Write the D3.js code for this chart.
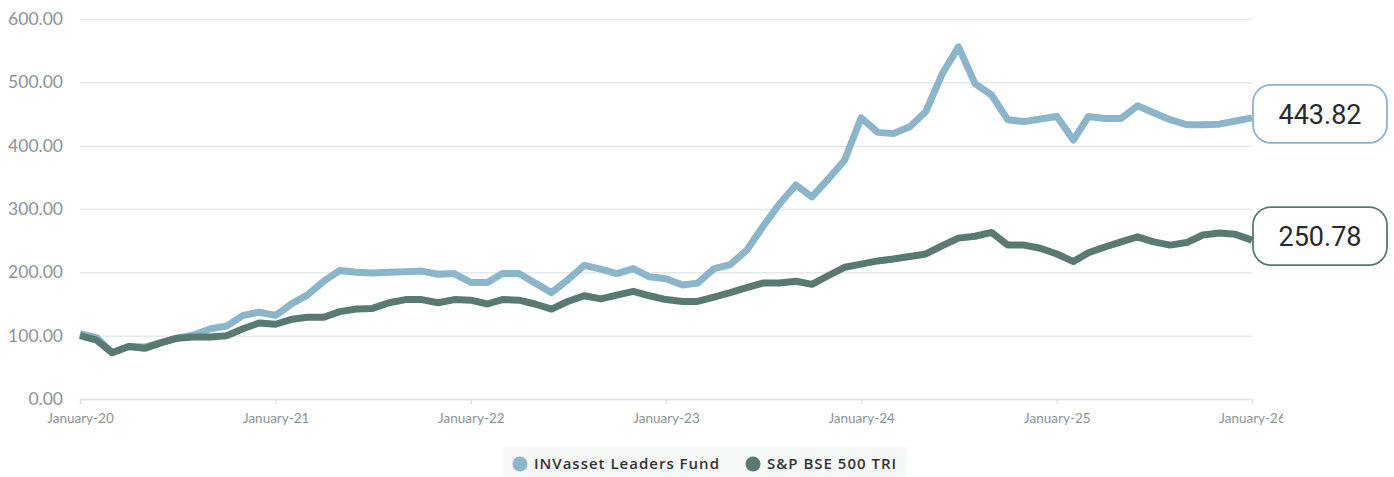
<!DOCTYPE html>
<html>
<head>
<meta charset="utf-8">
<script src="https://cdn.jsdelivr.net/npm/d3@7"></script>
<style>
  body { margin: 0; background: #fff; }
  svg { display: block; }
</style>
</head>
<body>
<div id="chart"></div>
<script>
// DATA
var startMonth = new Date(2020, 0, 1)
var endMonth = new Date(2026, 0, 1)
var months = d3.timeMonth.range(startMonth, d3.timeMonth.offset(endMonth, 1))

var fundValues = [103, 97, 73, 83, 82, 89, 96, 101, 111, 115, 132, 137,
  132, 151, 164, 186, 203, 200, 199, 200, 201, 202, 197, 198,
  184, 184, 198, 198, 183, 168, 188, 211, 205, 198, 206, 193,
  190, 180, 183, 206, 212, 235, 272, 308, 338, 319, 348, 377,
  444, 421, 419, 430, 454, 514, 556, 498, 480, 441, 438, 442,
  446, 409, 446, 443, 443, 463, 452, 441, 433, 433, 434, 439,
  443.82]

var indexValues = [100, 93, 73, 83, 80, 89, 96, 98, 98, 100, 111, 120,
  118, 126, 129, 129, 138, 142, 143, 152, 157, 157, 152, 157,
  156, 150, 157, 156, 150, 142, 154, 163, 158, 164, 170, 163,
  157, 154, 154, 161, 168, 176, 183, 183, 186, 181, 195, 208,
  213, 218, 221, 225, 229, 242, 254, 257, 263, 243, 243, 238,
  229, 217, 231, 240, 248, 256, 248, 243, 247, 259, 262, 260,
  250.78]

var yTicks = [0, 100, 200, 300, 400, 500, 600]
var xTicks = d3.timeYear.range(startMonth, d3.timeYear.offset(endMonth, 1))

var series = [
  {name: "INVasset Leaders Fund", color: "#8bb5cb", values: fundValues},
  {name: "S&P BSE 500 TRI", color: "#587a72", values: indexValues}
]

var W = 1394, H = 477
var margin = {top: 19, right: 142, bottom: 78, left: 80}

var svg = d3.select("#chart").append("svg")
  .attr("width", W)
  .attr("height", H)

var x = d3.scaleTime()
  .domain([startMonth, endMonth])
  .range([margin.left, W - margin.right])

var y = d3.scaleLinear()
  .domain([0, 600])
  .range([H - margin.bottom, margin.top])

// GRID + Y LABELS
var yAxis = svg.append("g")
  .attr("transform", "translate(" + margin.left + ",0)")
  .call(d3.axisLeft(y).tickValues(yTicks).tickSize(-(W - margin.right - margin.left)).tickPadding(17).tickFormat(d3.format(".2f")))

yAxis.select(".domain").remove()
yAxis.selectAll(".tick line")
  .attr("stroke", "#e4eaeb")
  .attr("stroke-width", 1.5)
yAxis.selectAll(".tick text")
  .style("font-family", "Lato, sans-serif")
  .style("font-size", "17.5px")
  .style("fill", "#8d9396")

// X AXIS
svg.append("clipPath").attr("id", "xclip")
  .append("rect").attr("x", 0).attr("y", 0).attr("width", 1283).attr("height", H)

var xAxis = svg.append("g")
  .attr("transform", "translate(0," + y(0) + ")")
  .attr("clip-path", "url(#xclip)")
  .call(d3.axisBottom(x).tickValues(xTicks).tickSize(5).tickPadding(9).tickFormat(d3.timeFormat("January-%y")))

xAxis.select(".domain")
  .attr("stroke", "#dde5e8")
  .attr("stroke-width", 1.5)
xAxis.selectAll(".tick line")
  .attr("stroke", "#dde5e8")
  .attr("stroke-width", 1.5)
xAxis.selectAll(".tick text")
  .style("font-family", "Lato, sans-serif")
  .style("font-size", "13.5px")
  .style("fill", "#8d9396")

// LINES (index drawn on top, as in the original)
var line = d3.line()
  .x((d, i) => x(months[i]))
  .y(d => y(d))

svg.selectAll(".series")
  .data(series)
  .enter().append("path")
    .attr("class", "series")
    .attr("d", d => line(d.values))
    .attr("fill", "none")
    .attr("stroke", d => d.color)
    .attr("stroke-width", 7)
    .attr("stroke-linejoin", "round")

// END LABELS
var endLabel = svg.selectAll(".end-label")
  .data(series)
  .enter().append("g")
    .attr("class", "end-label")
    .attr("transform", d => "translate(" + (x(endMonth) + 1) + "," + (y(d.values[d.values.length - 1]) - 4) + ")")

endLabel.append("rect")
  .attr("x", 0)
  .attr("y", -29)
  .attr("width", 134)
  .attr("height", 58)
  .attr("rx", 18)
  .attr("fill", "#fff")
  .attr("stroke", d => d.color)
  .attr("stroke-width", 1.8)

endLabel.append("text")
  .attr("x", 67)
  .attr("y", 1)
  .attr("text-anchor", "middle")
  .attr("dominant-baseline", "central")
  .style("font-family", "Roboto, sans-serif")
  .style("font-size", "27px")
  .style("fill", "#2a2a2a")
  .text(d => d3.format(".2f")(d.values[d.values.length - 1]))

// LEGEND
svg.append("rect")
  .attr("x", 503)
  .attr("y", 447)
  .attr("width", 404)
  .attr("height", 30)
  .attr("fill", "#f6f7f7")

var legendPos = [520, 753]
var legend = svg.selectAll(".legend")
  .data(series)
  .enter().append("g")
    .attr("class", "legend")
    .attr("transform", (d, i) => "translate(" + legendPos[i] + ",464)")

legend.append("circle")
  .attr("r", 7.5)
  .attr("fill", d => d.color)

legend.append("text")
  .attr("x", 14)
  .attr("y", 5)
  .style("font-family", "'Open Sans', sans-serif")
  .style("font-weight", 600)
  .style("font-size", "15px")
  .style("letter-spacing", "1px")
  .style("fill", "#333")
  .text(d => d.name)
</script>
</body>
</html>
